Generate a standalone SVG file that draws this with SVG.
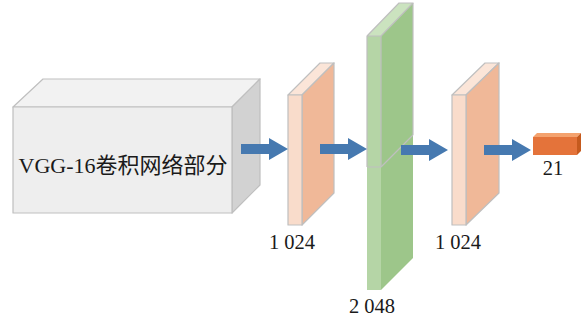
<svg xmlns="http://www.w3.org/2000/svg" width="586" height="320" viewBox="0 0 586 320">
<defs>
<style>
text{font-family:'Liberation Serif','Times New Roman','Noto Sans CJK SC',serif;font-size:20.5px;fill:#1a1a1a;text-anchor:middle}
.edge{stroke:#BFBFBF;stroke-width:1.2;stroke-linejoin:round}
.of{fill:#F9DCCB}.ot{fill:#FBE5D8}.or{fill:#F0B898}
.arrow{fill:#4679B0}
</style>
<polygon id="arr" points="0,-5 28,-5 28,-11 47,0 28,11 28,5 0,5"/>
</defs>
<rect width="586" height="320" fill="#ffffff"/>

<g id="vgg">
<polygon class="edge" fill="#F2F2F2" points="13,107 232,107 260,79 43,79"/>
<polygon class="edge" fill="#D2D2D2" points="232,107 260,79 260,185 232,213"/>
<rect class="edge" fill="#EEEEEE" x="13" y="107" width="219" height="106"/>
<text x="123" y="173" style="font-size:22px">VGG-16卷积网络部分</text>
</g>

<g id="fc1">
<polygon class="edge ot" points="288,95 302,95 334,63 320,63"/>
<polygon class="edge or" points="302,95 334,63 334,193 302,225"/>
<rect class="edge of" x="288" y="95" width="14" height="130"/>
<text x="292" y="249">1 024</text>
</g>

<g id="fc2">
<polygon fill="#CBE3BF" points="367,36 381,36 413,3 399,3"/>
<polygon fill="#9DC68A" points="381,36 413,3 413,258 381,290"/>
<rect fill="#B5D5A6" x="367" y="36" width="14" height="254"/>
<polyline class="edge" fill="none" points="367,167 367,36 381,36 413,3 399,3 367,36"/>
<polyline class="edge" fill="none" points="381,36 381,167"/>
<polyline class="edge" fill="none" points="367,167 381,167 413,135"/>
<line class="edge" x1="413" y1="3" x2="413" y2="135"/>
<text x="372" y="313">2 048</text>
</g>

<g id="fc3">
<polygon class="edge ot" points="452,95 466,95 499,63 485,63"/>
<polygon class="edge or" points="466,95 499,63 499,193 466,225"/>
<rect class="edge of" x="452" y="95" width="14" height="130"/>
<text x="458" y="249">1 024</text>
</g>

<g id="out">
<polygon fill="#F4A26E" points="533,137 577,137 581,133 537,133"/>
<polygon fill="#C55A1E" points="577,137 581,133 581,151 577,155"/>
<rect fill="#E4733A" x="533" y="137" width="44" height="18"/>
<text x="553" y="175">21</text>
</g>

<g id="connectors" class="arrow">
<use href="#arr" x="241" y="149"/>
<use href="#arr" x="320" y="149"/>
<use href="#arr" x="401" y="150"/>
<use href="#arr" x="484" y="150"/>
</g>
</svg>
